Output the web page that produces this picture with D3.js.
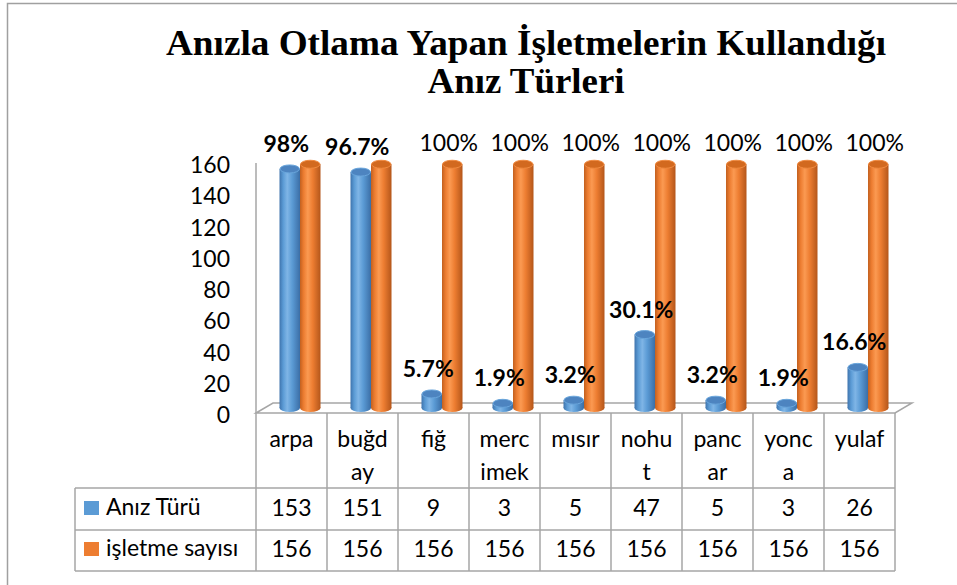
<!DOCTYPE html>
<html>
<head>
<meta charset="utf-8">
<script src="https://cdn.jsdelivr.net/npm/d3@7"></script>
<style>
  html, body { margin: 0; padding: 0; background: #ffffff; }
  svg { display: block; }
</style>
</head>
<body>
<script>
// ---------- data ----------
const categories = ["arpa", "buğday", "fiğ", "mercimek", "mısır", "nohut", "pancar", "yonca", "yulaf"];
const categoryLines = [["arpa"], ["buğd", "ay"], ["fiğ"], ["merc", "imek"], ["mısır"], ["nohu", "t"], ["panc", "ar"], ["yonc", "a"], ["yulaf"]];
const seriesNames = ["Anız Türü", "işletme sayısı"];
const anizTuru = [153, 151, 9, 3, 5, 47, 5, 3, 26];
const isletmeSayisi = [156, 156, 156, 156, 156, 156, 156, 156, 156];
const anizLabels = ["98%", "96.7%", "5.7%", "1.9%", "3.2%", "30.1%", "3.2%", "1.9%", "16.6%"];
// the reference shows no orange label above arpa and buğday
const isletmeLabels = ["", "", "100%", "100%", "100%", "100%", "100%", "100%", "100%"];
const yTicks = [0, 20, 40, 60, 80, 100, 120, 140, 160];
const titleLines = ["Anızla Otlama Yapan İşletmelerin Kullandığı", "Anız Türleri"];

// ---------- setup ----------
const W = 957, H = 585;
const FONT = "Lato, 'Open Sans', sans-serif";
const FS = 23;
const GRID = "#a6a6a6";
const svg = d3.select("body").append("svg").attr("width", W).attr("height", H);

const defs = svg.append("defs");
function grad(id, stops) {
  const g = defs.append("linearGradient").attr("id", id)
    .attr("x1", "0%").attr("x2", "100%").attr("y1", "0%").attr("y2", "0%");
  stops.forEach(s => g.append("stop").attr("offset", s[0]).attr("stop-color", s[1]));
}
grad("gBlue", [["0%", "#3f74ad"], ["18%", "#5b9bd5"], ["38%", "#7fb5e6"], ["62%", "#5b9bd5"], ["100%", "#3b6ea6"]]);
grad("gOrange", [["0%", "#c2601f"], ["18%", "#ed7d31"], ["38%", "#fb9a52"], ["62%", "#ed7d31"], ["100%", "#b4561a"]]);
const bodyFill = ["url(#gBlue)", "url(#gOrange)"];
const topFill = ["#4d84c0", "#d2691f"];
const topStroke = ["#6aa6dc", "#f08a40"];

// outer frame
svg.append("rect").attr("x", 7.5).attr("y", 3.5).attr("width", W + 10).attr("height", H + 10)
  .attr("fill", "none").attr("stroke", "#a0a0a0").attr("stroke-width", 1.5);

// title
titleLines.forEach((t, i) => {
  svg.append("text")
    .attr("x", 526).attr("y", i === 0 ? 55 : 93)
    .attr("text-anchor", "middle")
    .attr("font-family", "'Liberation Serif', 'DejaVu Serif', serif")
    .attr("font-weight", "bold").attr("font-size", 36)
    .attr("textLength", i === 0 ? 720 : 197)
    .attr("lengthAdjust", "spacingAndGlyphs")
    .attr("fill", "#000").text(t);
});

// scales
const x = d3.scaleBand().domain(categories).range([256, 895]).padding(0);
const inner = d3.scaleBand().domain(seriesNames).range([-20.5, 20.5]).padding(0);
const y = d3.scaleLinear().domain([0, 160]).range([413, 163]);
const DX = 8.5, DY = -5;
const series = [anizTuru, isletmeSayisi];
const labels = [anizLabels, isletmeLabels];

// y axis (labels only)
const yAxis = d3.axisLeft(y).tickValues(yTicks).tickSize(0).tickPadding(26).tickFormat(d3.format("d"));
const ga = svg.append("g").attr("transform", "translate(256,0)").call(yAxis);
ga.select(".domain").remove();
ga.selectAll("text").attr("font-family", FONT).attr("font-size", FS).attr("fill", "#000").attr("dy", "0.42em");

// floor + wall edge
const x0 = 256, x1 = 895, yf = y(0);
svg.append("path")
  .attr("d", `M${x0},${yf} L${x0 + 2 * DX},${yf + 2 * DY} L${x1 + 2 * DX},${yf + 2 * DY} L${x1},${yf} Z`)
  .attr("fill", "#ffffff").attr("stroke", GRID).attr("stroke-width", 1.5);
svg.append("line").attr("x1", x0).attr("x2", x0).attr("y1", y(160)).attr("y2", yf)
  .attr("stroke", GRID).attr("stroke-width", 1.5);

// bars (cylinders)
const RY = 4;
const base = y(0) + DY;
categories.forEach((c, ci) => {
  seriesNames.forEach((s, si) => {
    const v = series[si][ci];
    const w = inner.bandwidth();
    const cx = x(c) + x.bandwidth() / 2 + DX + inner(s) + w / 2;
    const top = y(v) + DY;
    const g = svg.append("g");
    g.append("ellipse").attr("cx", cx).attr("cy", base).attr("rx", w / 2).attr("ry", RY).attr("fill", bodyFill[si]);
    g.append("rect").attr("x", cx - w / 2).attr("y", top).attr("width", w).attr("height", Math.max(0, base - top)).attr("fill", bodyFill[si]);
    g.append("ellipse").attr("cx", cx).attr("cy", top).attr("rx", w / 2 - 0.5).attr("ry", RY)
      .attr("fill", topFill[si]).attr("stroke", topStroke[si]).attr("stroke-width", 1);
  });
});

// data labels
categories.forEach((c, ci) => {
  seriesNames.forEach((s, si) => {
    const txt = labels[si][ci];
    if (!txt) return;
    const v = series[si][ci];
    const w = inner.bandwidth();
    const cx = x(c) + x.bandwidth() / 2 + DX + inner(s) + w / 2;
    const top = y(v) + DY;
    const cy = si === 0 ? top - 25 : top - 21;
    svg.append("text")
      .attr("x", cx - 3.5).attr("y", cy + 8)
      .attr("text-anchor", "middle")
      .attr("font-family", FONT).attr("font-size", FS)
      .attr("font-weight", si === 0 ? "bold" : "normal")
      .attr("fill", "#000").text(txt);
  });
});

// data table
const rowTop = yf, rowCat = 488, row1 = 530, row2 = 571, legLeft = 75;
const grid = svg.append("g").attr("stroke", GRID).attr("stroke-width", 1.5);
[rowCat, row1, row2].forEach(yy => grid.append("line").attr("x1", legLeft).attr("x2", x1).attr("y1", yy).attr("y2", yy));
grid.append("line").attr("x1", legLeft).attr("x2", legLeft).attr("y1", rowCat).attr("y2", row2);
categories.forEach(c => grid.append("line").attr("x1", x(c)).attr("x2", x(c)).attr("y1", rowTop).attr("y2", row2));
grid.append("line").attr("x1", x1).attr("x2", x1).attr("y1", rowTop).attr("y2", row2);

// category labels
categories.forEach((c, ci) => {
  categoryLines[ci].forEach((ln, li) => {
    svg.append("text")
      .attr("x", x(c) + x.bandwidth() / 2).attr("y", 447 + li * 33)
      .attr("text-anchor", "middle").attr("font-family", FONT).attr("font-size", FS)
      .attr("fill", "#000").text(ln);
  });
});

// table values
const rowBase = [516, 557];
series.forEach((vals, si) => {
  vals.forEach((v, ci) => {
    svg.append("text")
      .attr("x", x(categories[ci]) + x.bandwidth() / 2).attr("y", rowBase[si])
      .attr("text-anchor", "middle").attr("font-family", FONT).attr("font-size", FS)
      .attr("fill", "#000").text(v);
  });
});

// legend keys in table
const keyColors = ["#5b9bd5", "#ed7d31"];
seriesNames.forEach((s, si) => {
  svg.append("rect").attr("x", 84).attr("y", rowBase[si] - 15).attr("width", 15).attr("height", 14).attr("fill", keyColors[si]);
  svg.append("text").attr("x", 106).attr("y", rowBase[si] - 1)
    .attr("font-family", FONT).attr("font-size", FS).attr("fill", "#000").text(s);
});
</script>
</body>
</html>
